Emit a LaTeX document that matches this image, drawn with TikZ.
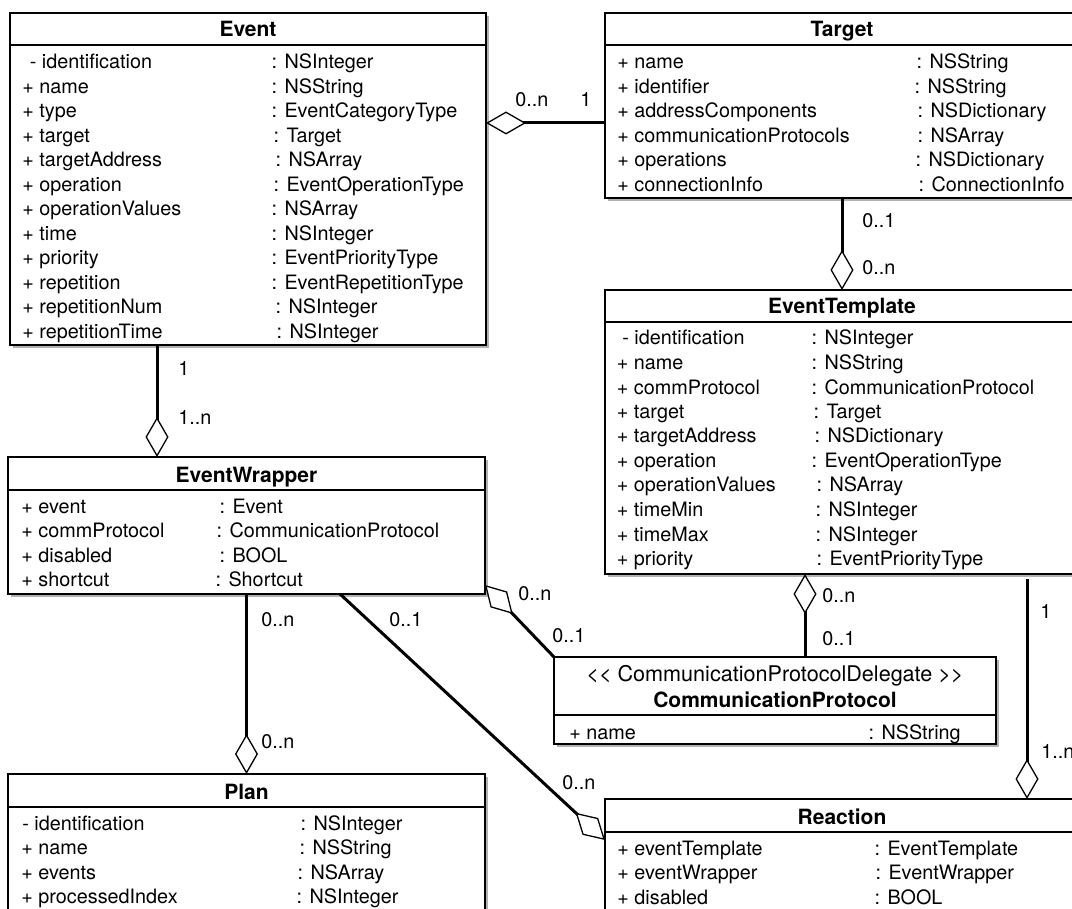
\documentclass[tikz,border=0pt]{standalone}
\usepackage{fontspec}
\setmainfont{TeX Gyre Heros}
\usetikzlibrary{arrows.meta,shadows}
\newcommand\umlattr{\fontsize{9.9pt}{12pt}\selectfont}
\newcommand\umltitle{\bfseries\fontsize{10.5pt}{12.6pt}\selectfont}
\newcommand\umlstereo{\fontsize{10.8pt}{13pt}\selectfont}

\begin{document}
\begin{tikzpicture}[x=0.5pt,y=-0.5pt,
  classbox/.style={draw=black,line width=0.85pt,fill=white,anchor=north west,
    inner sep=0pt,outer sep=0pt,
    drop shadow={shadow xshift=1.3pt,shadow yshift=-1.3pt,opacity=0.3,fill=black}},
  hdrline/.style={line width=0.85pt},
  attr/.style={anchor=base west,inner sep=0pt,font=\umlattr},
  ttl/.style={anchor=base,inner sep=0pt,font=\umltitle},
  stereo/.style={anchor=base,inner sep=0pt,font=\umlstereo},
  mult/.style={anchor=base west,inner sep=0pt,font=\umlattr},
  link/.style={line width=1.5pt},
  agg/.style={link,-{Diamond[fill=white,length=20pt,width=11.5pt,line width=0.65pt]}}
]
\useasboundingbox (0,0) rectangle (1072,909);

% ---------- class boxes ----------
\node[classbox,minimum width=238pt,minimum height=166pt]   (event)      at (10,13)   {};
\node[classbox,minimum width=237pt,minimum height=92.5pt]  (target)     at (605,13)  {};
\node[classbox,minimum width=237pt,minimum height=142pt]   (evtemplate) at (605,290) {};
\node[classbox,minimum width=238.5pt,minimum height=68.5pt](ewrap)      at (8,457)   {};
\node[classbox,minimum width=238.5pt,minimum height=80pt]  (plan)       at (8,774)   {};
\node[classbox,minimum width=221pt,minimum height=43.5pt]  (cprot)      at (554,657) {};
\node[classbox,minimum width=237pt,minimum height=70pt]    (reaction)   at (605,799) {};

% header separators
\draw[hdrline] ([yshift=-16pt]event.north west)      -- ([yshift=-16pt]event.north east);
\draw[hdrline] ([yshift=-16pt]target.north west)     -- ([yshift=-16pt]target.north east);
\draw[hdrline] ([yshift=-16pt]evtemplate.north west) -- ([yshift=-16pt]evtemplate.north east);
\draw[hdrline] ([yshift=-16.5pt]ewrap.north west)    -- ([yshift=-16.5pt]ewrap.north east);
\draw[hdrline] ([yshift=-16.5pt]plan.north west)     -- ([yshift=-16.5pt]plan.north east);
\draw[hdrline] ([yshift=-16.5pt]reaction.north west) -- ([yshift=-16.5pt]reaction.north east);
\draw[hdrline] ([yshift=-29pt]cprot.north west)      -- ([yshift=-29pt]cprot.north east);

% titles
\node[ttl] (event-t)      at ([yshift=-12pt]event.north)      {Event};
\node[ttl] (target-t)     at ([yshift=-12pt]target.north)     {Target};
\node[ttl] (evtemplate-t) at ([yshift=-12pt]evtemplate.north) {EventTemplate};
\node[ttl] (ewrap-t)      at ([yshift=-12.5pt]ewrap.north)    {EventWrapper};
\node[ttl] (plan-t)       at ([yshift=-12.5pt]plan.north)     {Plan};
\node[ttl] (reaction-t)   at ([yshift=-12.5pt]reaction.north) {Reaction};
\node[stereo] (cprot-s)   at ([yshift=-12pt]cprot.north)      {<{}< CommunicationProtocolDelegate >{}>};
\node[ttl] (cprot-t)      at ([yshift=-25pt]cprot.north)      {CommunicationProtocol};

% ---------- attributes ----------
\foreach \nx/\nm/\tx/\ty [count=\i from 0] in {
  29.5/- identification/271.3/: NSInteger,
  22/+ name/271.3/: NSString,
  22/+ type/271.3/: EventCategoryType,
  22/+ target/273.3/: Target,
  22/+ targetAddress/275.3/: NSArray,
  22/+ operation/273.3/: EventOperationType,
  22/+ operationValues/271.3/: NSArray,
  22/+ time/271.3/: NSInteger,
  22/+ priority/271.3/: EventPriorityType,
  22/+ repetition/271.3/: EventRepetitionType,
  22/+ repetitionNum/275.3/: NSInteger,
  22/+ repetitionTime/276.3/: NSInteger}{
  \node[attr] (event-n\i) at (\nx,{69+24.5*\i}) {\nm};
  \node[attr] (event-c\i) at (\tx,{69+24.5*\i}) {\ty};
}

\foreach \nm/\tx/\ty [count=\i from 0] in {
  + name/916.3/: NSString,
  + identifier/914.3/: NSString,
  + addressComponents/917.3/: NSDictionary,
  + communicationProtocols/917.3/: NSArray,
  + operations/915.3/: NSDictionary,
  + connectionInfo/918.3/: ConnectionInfo}{
  \node[attr] (target-n\i) at (617,{69+24.5*\i}) {\nm};
  \node[attr] (target-c\i) at (\tx,{69+24.5*\i}) {\ty};
}

\foreach \nx/\nm/\tx/\ty [count=\i from 0] in {
  622/- identification/811.3/: NSInteger,
  616.5/+ name/811.3/: NSString,
  616.5/+ commProtocol/811.3/: CommunicationProtocol,
  616.5/+ target/813.3/: Target,
  616.5/+ targetAddress/814.3/: NSDictionary,
  616.5/+ operation/811.3/: EventOperationType,
  616.5/+ operationValues/816.3/: NSArray,
  616.5/+ timeMin/815.3/: NSInteger,
  616.5/+ timeMax/815.3/: NSInteger,
  616.5/+ priority/816.3/: EventPriorityType}{
  \node[attr] (evtemplate-n\i) at (\nx,{345+24.5*\i}) {\nm};
  \node[attr] (evtemplate-c\i) at (\tx,{345+24.5*\i}) {\ty};
}

\foreach \nm/\tx/\ty [count=\i from 0] in {
  + event/219.3/: Event,
  + commProtocol/216.3/: CommunicationProtocol,
  + disabled/219.3/: BOOL,
  + shortcut/215.3/: Shortcut}{
  \node[attr] (ewrap-n\i) at (21,{513+24.5*\i}) {\nm};
  \node[attr] (ewrap-c\i) at (\tx,{513+24.5*\i}) {\ty};
}

\foreach \nx/\nm/\tx/\ty [count=\i from 0] in {
  22/- identification/300.3/: NSInteger,
  21/+ name/299.3/: NSString,
  21/+ events/297.3/: NSArray,
  21/+ processedIndex/296.3/: NSInteger}{
  \node[attr] (plan-n\i) at (\nx,{830+24.5*\i}) {\nm};
  \node[attr] (plan-c\i) at (\tx,{830+24.5*\i}) {\ty};
}

\foreach \nm/\tx/\ty [count=\i from 0] in {
  + eventTemplate/874.3/: EventTemplate,
  + eventWrapper/875.3/: EventWrapper,
  + disabled/874.3/: BOOL}{
  \node[attr] (reaction-n\i) at (617,{855+24.5*\i}) {\nm};
  \node[attr] (reaction-c\i) at (\tx,{855+24.5*\i}) {\ty};
}

\node[attr] (cprot-n0) at (569,739)   {+ name};
\node[attr] (cprot-c0) at (868.3,739) {: NSString};

% ---------- associations (open diamond = aggregate side) ----------
\coordinate (tgl) at ([yshift=-8.75pt]target.west);
\coordinate (evr) at (tgl -| event.east);
\draw[agg] (tgl) -- (evr);

\draw[agg] (target.south) -- (evtemplate.north);

\coordinate (cpt) at ([xshift=15pt]cprot.north);
\coordinate (etb) at (cpt |- evtemplate.south);
\draw[agg] (cpt) -- (etb);

\coordinate (rxt) at ([xshift=92.5pt]reaction.north);
\coordinate (etr) at (rxt |- evtemplate.south);
\draw[agg] ([yshift=-2.5pt]etr) -- (rxt);

\coordinate (evb) at ([xshift=-45.5pt]event.south);
\coordinate (ewt) at (evb |- ewrap.north);
\draw[agg] (evb) -- (ewt);

\draw[agg] (ewrap.south) -- (plan.north);

\coordinate (ewr) at ([yshift=4.5pt]ewrap.south east);
\draw[agg] (cprot.north west) -- (ewr);

\coordinate (ewb) at ([xshift=46.75pt]ewrap.south);
\coordinate (rxl) at ([yshift=-20.5pt]reaction.north west);
\draw[agg] (ewb) -- (rxl);

% ---------- multiplicities ----------
\node[mult] (m1)  at (515,107)  {0..n};
\node[mult] (m2)  at (580,107)  {1};
\node[mult] (m3)  at (862,228)  {0..1};
\node[mult] (m4)  at (862,275)  {0..n};
\node[mult] (m5)  at (178,376)  {1};
\node[mult] (m6)  at (178,424)  {1..n};
\node[mult] (m7)  at (261,626)  {0..n};
\node[mult] (m8)  at (261,748)  {0..n};
\node[mult] (m9)  at (389,626)  {0..1};
\node[mult] (m10) at (518,600)  {0..n};
\node[mult] (m11) at (552,642)  {0..1};
\node[mult] (m12) at (822,602)  {0..n};
\node[mult] (m13) at (822,645)  {0..1};
\node[mult] (m14) at (1040,618) {1};
\node[mult] (m15) at (1041,758) {1..n};
\node[mult] (m16) at (562,789)  {0..n};
\end{tikzpicture}
\end{document}
